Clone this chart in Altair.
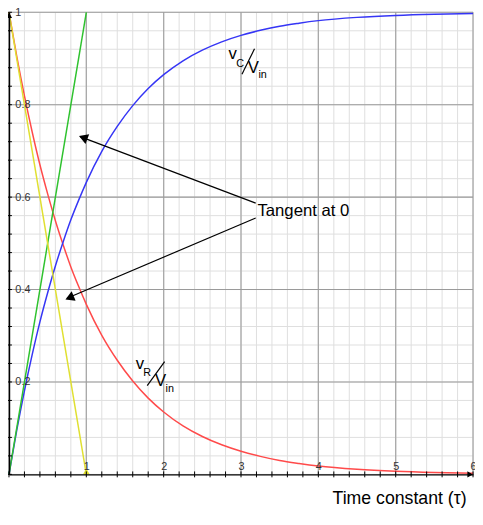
import altair as alt
import pandas as pd

# ---- data ----
t = [0, 0.1, 0.2, 0.3, 0.4, 0.5, 0.6, 0.7, 0.8, 0.9, 1, 1.2, 1.4, 1.6, 1.8, 2,
     2.25, 2.5, 2.75, 3, 3.25, 3.5, 3.75, 4, 4.5, 5, 5.5, 6]
v_r = [1, 0.905, 0.819, 0.741, 0.670, 0.607, 0.549, 0.497, 0.449, 0.407, 0.368,
       0.301, 0.247, 0.202, 0.165, 0.135, 0.105, 0.082, 0.064, 0.050, 0.039, 0.030,
       0.0235, 0.018, 0.011, 0.0067, 0.0041, 0.0025]
v_c = [0, 0.095, 0.181, 0.259, 0.330, 0.393, 0.451, 0.503, 0.551, 0.593, 0.632,
       0.699, 0.753, 0.798, 0.835, 0.865, 0.895, 0.918, 0.936, 0.950, 0.961, 0.970,
       0.9765, 0.982, 0.989, 0.9933, 0.9959, 0.9975]
tan_t = [0, 1]
tan_c = [0, 1]
tan_r = [1, 0]

x_major = [0, 1, 2, 3, 4, 5, 6]
x_minor = [round(0.2 * i, 2) for i in range(31)]
y_major = [0.2, 0.4, 0.6, 0.8, 1.0]
y_minor = [round(0.04 * i, 2) for i in range(26)]
x_labels = [1, 2, 3, 4, 5, 6]
y_labels = [0.2, 0.4, 0.6, 0.8, 1.0]

# annotations (data coordinates)
big_text = ["v", "V", "v", "V"]
big_x = [2.8375, 3.0875, 1.6375, 1.8875]
big_y = [0.900, 0.868, 0.2276, 0.192]
sub_text = ["C", "in", "R", "in"]
sub_x = [2.9375, 3.225, 1.7375, 2.025]
sub_y = [0.881, 0.857, 0.213, 0.1775]
slash_id = ["c", "c", "r", "r"]
slash_x = [3.0125, 3.175, 1.7875, 2.0125]
slash_y = [0.866, 0.921, 0.192, 0.244]
note_text = ["Tangent at 0"]
note_x = [3.2125]
note_y = [0.5595]
arrow_id = ["a", "a", "b", "b"]
arrow_x = [3.19, 0.92, 3.19, 0.75]
arrow_y = [0.587, 0.731, 0.555, 0.381]
head_x = [0.959, 0.783]
head_y = [0.729, 0.382]
head_angle = [201, 157]

FONT = "Liberation Sans"
W, H = 472, 470
xs = alt.Scale(domain=[0, 6], nice=False, zero=False)
ys = alt.Scale(domain=[0, 1], nice=False, zero=False)

x_axis = alt.Axis(
    values=x_labels, format="d", grid=False, ticks=False, tickSize=0,
    domain=True, domainColor="black", domainWidth=1.5,
    labelPadding=-5, labelBaseline="alphabetic", labelFont=FONT, labelFontSize=11,
    labelColor="#333", labelFlush=False, labelBound=False, labelOverlap=False,
    title="Time constant (τ)", titleFont=FONT, titleFontSize=18, titleFontWeight="normal",
    titleColor="black", titleAnchor="end", titleAlign="right", titleBaseline="alphabetic",
    titleX=465, titleY=30, zindex=1,
)
y_axis = alt.Axis(
    values=y_labels, format="~g", grid=False, ticks=False, tickSize=0,
    domain=True, domainColor="black", domainWidth=1.5,
    labelPadding=-6, labelAlign="left", labelBaseline="middle", labelFont=FONT,
    labelFontSize=11, labelColor="#333", labelFlush=False, labelBound=False,
    labelOverlap=False, title=None, zindex=1,
)


def X(field="x"):
    return alt.X(f"{field}:Q", scale=xs, axis=x_axis)


def Y(field="y"):
    return alt.Y(f"{field}:Q", scale=ys, axis=y_axis)


# axes carrier (first layer)
axes = alt.Chart(pd.DataFrame({"x": [0, 6], "y": [0, 1]})).mark_point(opacity=0).encode(
    x=X(), y=Y()
)

# grid
gx_minor = alt.Chart(pd.DataFrame({"x": x_minor})).mark_rule(color="#dedede", strokeWidth=1).encode(x=X())
gy_minor = alt.Chart(pd.DataFrame({"y": y_minor})).mark_rule(color="#dedede", strokeWidth=1).encode(y=Y())
gx_major = alt.Chart(pd.DataFrame({"x": x_major})).mark_rule(color="#a8a8a8", strokeWidth=1.3).encode(x=X())
gy_major = alt.Chart(pd.DataFrame({"y": y_major})).mark_rule(color="#9a9a9a", strokeWidth=1.1).encode(y=Y())

# small ticks
xt = alt.Chart(pd.DataFrame({"x": x_minor})).mark_rule(color="black", strokeWidth=1).encode(
    x=X(), y=alt.value(H - 3), y2=alt.value(H + 3)
)
yt = alt.Chart(pd.DataFrame({"y": y_minor})).mark_rule(color="black", strokeWidth=1).encode(
    y=Y(), x=alt.value(-3), x2=alt.value(3)
)

# curves
curves_df = pd.DataFrame({"x": t, "vr": v_r, "vc": v_c})
red = alt.Chart(curves_df).mark_line(color="#ff4a4a", strokeWidth=1.5, interpolate="monotone").encode(
    x=X(), y=Y("vr")
)
blue = alt.Chart(curves_df).mark_line(color="#3535f5", strokeWidth=1.5, interpolate="monotone").encode(
    x=X(), y=Y("vc")
)
tan_df = pd.DataFrame({"x": tan_t, "c": tan_c, "r": tan_r})
green = alt.Chart(tan_df).mark_line(color="#2ec22e", strokeWidth=1.5).encode(x=X(), y=Y("c"))
yellow = alt.Chart(tan_df).mark_line(color="#e0e030", strokeWidth=1.5).encode(x=X(), y=Y("r"))
ymark = alt.Chart(pd.DataFrame({"x": [1], "y": [0]})).mark_point(
    shape="triangle-up", filled=True, color="#e0e030", size=45, opacity=1, yOffset=-3
).encode(x=X(), y=Y())

# axis arrows
yarrow = alt.Chart(pd.DataFrame({"x": [0]})).mark_point(
    shape="triangle-up", filled=True, color="black", size=40, opacity=1
).encode(x=X(), y=alt.value(3))
xarrow = alt.Chart(pd.DataFrame({"y": [0]})).mark_point(
    shape="triangle-right", filled=True, color="black", size=40, opacity=1
).encode(y=Y(), x=alt.value(W - 3))

# annotations
big = alt.Chart(pd.DataFrame({"x": big_x, "y": big_y, "t": big_text})).mark_text(
    align="left", baseline="alphabetic", font=FONT, fontSize=17, color="black"
).encode(x=X(), y=Y(), text="t:N")
sub = alt.Chart(pd.DataFrame({"x": sub_x, "y": sub_y, "t": sub_text})).mark_text(
    align="left", baseline="alphabetic", font=FONT, fontSize=11, color="black"
).encode(x=X(), y=Y(), text="t:N")
slashes = alt.Chart(pd.DataFrame({"x": slash_x, "y": slash_y, "id": slash_id})).mark_line(
    color="black", strokeWidth=1.2
).encode(x=X(), y=Y(), detail="id:N")
note = alt.Chart(pd.DataFrame({"x": note_x, "y": note_y, "t": note_text})).mark_text(
    align="left", baseline="alphabetic", font=FONT, fontSize=17, color="black"
).encode(x=X(), y=Y(), text="t:N")
arrows = alt.Chart(pd.DataFrame({"x": arrow_x, "y": arrow_y, "id": arrow_id})).mark_line(
    color="black", strokeWidth=1.2
).encode(x=X(), y=Y(), detail="id:N")
heads = alt.Chart(pd.DataFrame({"x": head_x, "y": head_y, "a": head_angle})).mark_point(
    shape="triangle-right", filled=True, color="black", size=110, opacity=1
).encode(x=X(), y=Y(), angle=alt.Angle("a:Q", scale=None))

chart = alt.layer(
    axes,
    gx_minor, gy_minor, gx_major, gy_major,
    red, blue, green, yellow, ymark,
    xt, yt, yarrow, xarrow,
    slashes, big, sub, arrows, heads, note,
).properties(
    width=W, height=H,
    autosize=alt.AutoSizeParams(type="none"),
    padding={"left": 1, "top": 0, "right": 2, "bottom": 40},
).configure_view(stroke=None)

chart.save("out.html", embed_options={"renderer": "svg", "actions": False})
